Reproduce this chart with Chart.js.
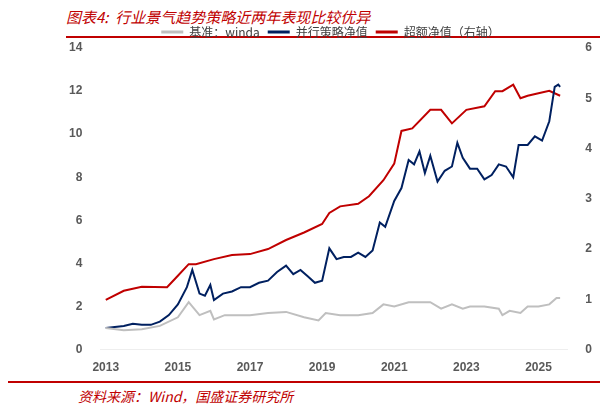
<!DOCTYPE html>
<html><head><meta charset="utf-8">
<script src="https://cdn.jsdelivr.net/npm/chart.js@4"></script>
<style>
body{margin:0;width:605px;height:416px;background:#fff;font-family:"Noto Sans CJK SC",sans-serif;position:relative;overflow:hidden}
.title{position:absolute;left:66px;top:6px;color:#c00000;font-style:italic;font-size:15px}
.rule{position:absolute;left:66px;width:534px;height:2px;background:#c00000}
.src{position:absolute;left:78px;top:386px;color:#c00000;font-style:italic;font-size:14px}
#wrap{position:absolute;left:59px;top:18px;width:543px;height:360px}
</style></head><body>
<div class="title">图表4:&nbsp; 行业景气趋势策略近两年表现比较优异</div>
<div class="rule" style="top:36px"></div>
<div id="wrap"><canvas id="c"></canvas></div>
<div class="rule" style="top:381px;left:8px;width:592px;height:1.5px"></div>
<div class="src">资料来源：Wind，国盛证券研究所</div>
<script>
const benchX = [2013,2013.5,2014,2014.5,2015,2015.3,2015.6,2015.9,2016,2016.3,2017,2017.5,2018,2018.5,2018.9,2019.1,2019.5,2020,2020.4,2020.7,2021,2021.4,2021.8,2022,2022.3,2022.6,2022.9,2023.1,2023.5,2023.9,2024,2024.2,2024.5,2024.7,2025,2025.3,2025.5,2025.6];
const benchY = [1.0,0.9,0.95,1.1,1.5,2.2,1.6,1.8,1.4,1.6,1.6,1.7,1.75,1.5,1.35,1.7,1.6,1.6,1.7,2.1,2.0,2.2,2.2,2.2,1.9,2.1,1.9,2.0,2.0,1.9,1.6,1.8,1.7,2.0,2.0,2.1,2.4,2.4];
const stratX = [2013,2013.25,2013.5,2013.75,2014,2014.25,2014.5,2014.75,2015,2015.25,2015.4,2015.6,2015.75,2015.9,2016,2016.25,2016.5,2016.75,2017,2017.25,2017.5,2017.75,2018,2018.2,2018.4,2018.6,2018.8,2019,2019.2,2019.4,2019.6,2019.8,2020,2020.2,2020.4,2020.6,2020.75,2021,2021.2,2021.4,2021.55,2021.7,2021.85,2022,2022.2,2022.4,2022.6,2022.75,2022.9,2023.1,2023.3,2023.5,2023.7,2023.9,2024.1,2024.3,2024.45,2024.7,2024.9,2025.1,2025.3,2025.45,2025.55,2025.6];
const stratY = [1.0,1.05,1.1,1.2,1.15,1.15,1.3,1.6,2.1,2.9,3.7,2.6,2.5,3.0,2.3,2.6,2.7,2.9,2.9,3.1,3.2,3.6,3.9,3.5,3.7,3.4,3.1,3.2,4.7,4.2,4.3,4.3,4.5,4.3,4.6,5.9,5.7,6.9,7.5,8.8,8.6,9.2,8.2,9.0,7.8,8.3,8.5,9.6,8.9,8.4,8.4,7.9,8.1,8.6,8.5,8.0,9.5,9.5,9.9,9.7,10.6,12.2,12.3,12.2];
const excessX = [2013,2013.5,2014,2014.7,2015,2015.3,2015.5,2016,2016.5,2017,2017.5,2018,2018.5,2019,2019.2,2019.5,2020,2020.3,2020.7,2021,2021.2,2021.5,2022,2022.3,2022.6,2023,2023.5,2023.8,2024,2024.3,2024.5,2024.7,2025,2025.3,2025.6];
const excessY = [0.99,1.17,1.25,1.24,1.47,1.7,1.7,1.8,1.88,1.9,2.0,2.18,2.33,2.5,2.72,2.85,2.9,3.05,3.37,3.7,4.35,4.4,4.77,4.77,4.5,4.77,4.84,5.14,5.14,5.27,5.0,5.05,5.1,5.15,5.05];
const pts = (xs, ys) => xs.map((x, i) => ({ x, y: ys[i] }));
const tickFont = { family: "Liberation Sans", size: 12, weight: "bold" };

new Chart(document.getElementById("c"), {
  type: "line",
  data: {
    datasets: [
      { label: "基准：winda", data: pts(benchX, benchY), borderColor: "#bfbfbf", yAxisID: "y" },
      { label: "并行策略净值", data: pts(stratX, stratY), borderColor: "#002060", yAxisID: "y" },
      { label: "超额净值（右轴）", data: pts(excessX, excessY), borderColor: "#c00000", yAxisID: "y1" },
    ],
  },
  options: {
    responsive: true,
    maintainAspectRatio: false,
    animation: false,
    elements: { point: { radius: 0 }, line: { borderWidth: 2, tension: 0 } },
    scales: {
      x: {
        type: "linear", min: 2012.85, max: 2025.8,
        afterBuildTicks(axis) { axis.ticks = [2013, 2015, 2017, 2019, 2021, 2023, 2025].map((v) => ({ value: v })); },
        ticks: { color: "#595959", font: tickFont, callback: (v) => String(v), maxRotation: 0 },
        grid: { display: false }, border: { color: "#eeeeee" },
      },
      y: {
        min: 0, max: 14,
        ticks: { stepSize: 2, color: "#595959", font: tickFont, padding: 10 },
        grid: { display: false }, border: { display: false },
      },
      y1: {
        position: "right", min: 0, max: 6,
        ticks: { stepSize: 1, color: "#595959", font: tickFont, padding: 10 },
        grid: { display: false }, border: { display: false },
      },
    },
    plugins: {
      legend: {
        labels: {
          boxWidth: 22, boxHeight: 0, color: "#404040", padding: 8,
          font: { family: "Noto Sans CJK SC", size: 12 },
          generateLabels(chart) {
            return chart.data.datasets.map((d, i) => ({ text: d.label, strokeStyle: d.borderColor, fillStyle: d.borderColor, lineWidth: 3, datasetIndex: i, fontColor: "#404040" }));
          },
        },
      },
      tooltip: { enabled: false },
    },
  },
});
</script>
</body></html>
